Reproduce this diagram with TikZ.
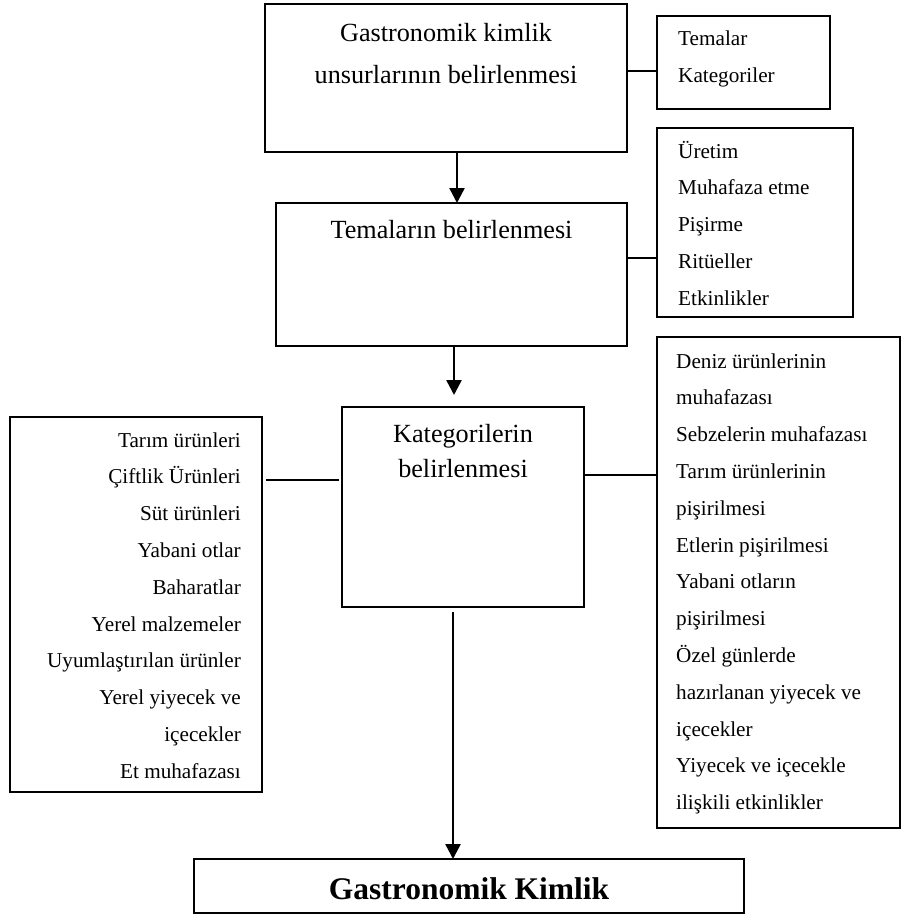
\documentclass[tikz,border=0pt]{standalone}
\usepackage{fontspec}
\setmainfont{Liberation Serif}
\usetikzlibrary{arrows.meta}
\begin{document}
\begin{tikzpicture}[x=1pt,y=-1pt,
  box/.style={draw=black, line width=1.9pt, rectangle, inner sep=0pt, outer sep=0pt},
  maintxt/.style={anchor=base, inner sep=0pt, font=\fontsize{26.2}{31}\selectfont},
  sidetxt/.style={anchor=base west, inner sep=0pt, font=\fontsize{21.2}{25}\selectfont},
  lefttxt/.style={anchor=base east, inner sep=0pt, font=\fontsize{21.2}{25}\selectfont},
  titletxt/.style={anchor=base, inner sep=0pt, font=\bfseries\fontsize{31.5}{36}\selectfont},
  link/.style={line width=1.9pt},
  flow/.style={line width=2.5pt, -{Triangle[length=15pt,width=15pt]}}]
\useasboundingbox (0,0) rectangle (901,915);

% main column of steps
\node[box, minimum width=362pt, minimum height=148pt] (A) at (446,78) {};
\node[maintxt] (a1) at (446,42) {Gastronomik kimlik};
\node[maintxt] (a2) at (446,84) {unsurlarının belirlenmesi};

\node[box, minimum width=351pt, minimum height=143pt] (B) at (451.5,274.5) {};
\node[maintxt] (b1) at (451.5,238) {Temaların belirlenmesi};

\node[box, minimum width=242pt, minimum height=200pt] (C) at (463,507) {};
\node[maintxt] (c1) at (463,442) {Kategorilerin};
\node[maintxt] (c2) at (463,477) {belirlenmesi};

\node[box, minimum width=550pt, minimum height=54pt] (K) at (469,886) {};
\node[titletxt] (k1) at (469,899) {Gastronomik Kimlik};

% side lists
\node[box, minimum width=173pt, minimum height=93pt] (T) at (743.5,62.5) {};
\foreach \t [count=\i] in {Temalar, Kategoriler}
  \node[sidetxt] (t\i) at (678,{46+37*(\i-1)}) {\t};

\node[box, minimum width=196pt, minimum height=189pt] (U) at (755,222.5) {};
\foreach \t [count=\i] in {Üretim, Muhafaza etme, Pişirme, Ritüeller, Etkinlikler}
  \node[sidetxt] (u\i) at (678,{158+36.9*(\i-1)}) {\t};

\node[box, minimum width=252pt, minimum height=375pt] (L) at (136,604.5) {};
\foreach \t [count=\i] in {Tarım ürünleri, Çiftlik Ürünleri, Süt ürünleri, Yabani otlar,
    Baharatlar, Yerel malzemeler, Uyumlaştırılan ürünler, Yerel yiyecek ve,
    içecekler, Et muhafazası}
  \node[lefttxt] (l\i) at (241,{447+36.8*(\i-1)}) {\t};

\node[box, minimum width=243pt, minimum height=491pt] (R) at (778.5,582.5) {};
\foreach \t [count=\i] in {Deniz ürünlerinin, muhafazası, Sebzelerin muhafazası,
    Tarım ürünlerinin, pişirilmesi, Etlerin pişirilmesi, Yabani otların,
    pişirilmesi, Özel günlerde, hazırlanan yiyecek ve, içecekler,
    Yiyecek ve içecekle, ilişkili etkinlikler}
  \node[sidetxt] (r\i) at (676,{368+36.8*(\i-1)}) {\t};

% flow arrows
\draw[flow] (A.south -| 457,0) -- (B.north -| 457,0);
\draw[flow] (B.south -| 454,0) -- ([yshift=12pt]C.north -| 454,0);
\draw[flow] ([yshift=-5pt]C.south -| 453,0) -- (K.north -| 453,0);

% links to the side lists
\draw[link] (A.east |- 0,71) -- (T.west |- 0,71);
\draw[link] (B.east |- 0,258) -- (U.west |- 0,258);
\draw[link] (C.east |- 0,475) -- (R.west |- 0,475);
\draw[link] ([xshift=-3pt]C.west |- 0,480) -- ([xshift=4pt]L.east |- 0,480);
\end{tikzpicture}
\end{document}
